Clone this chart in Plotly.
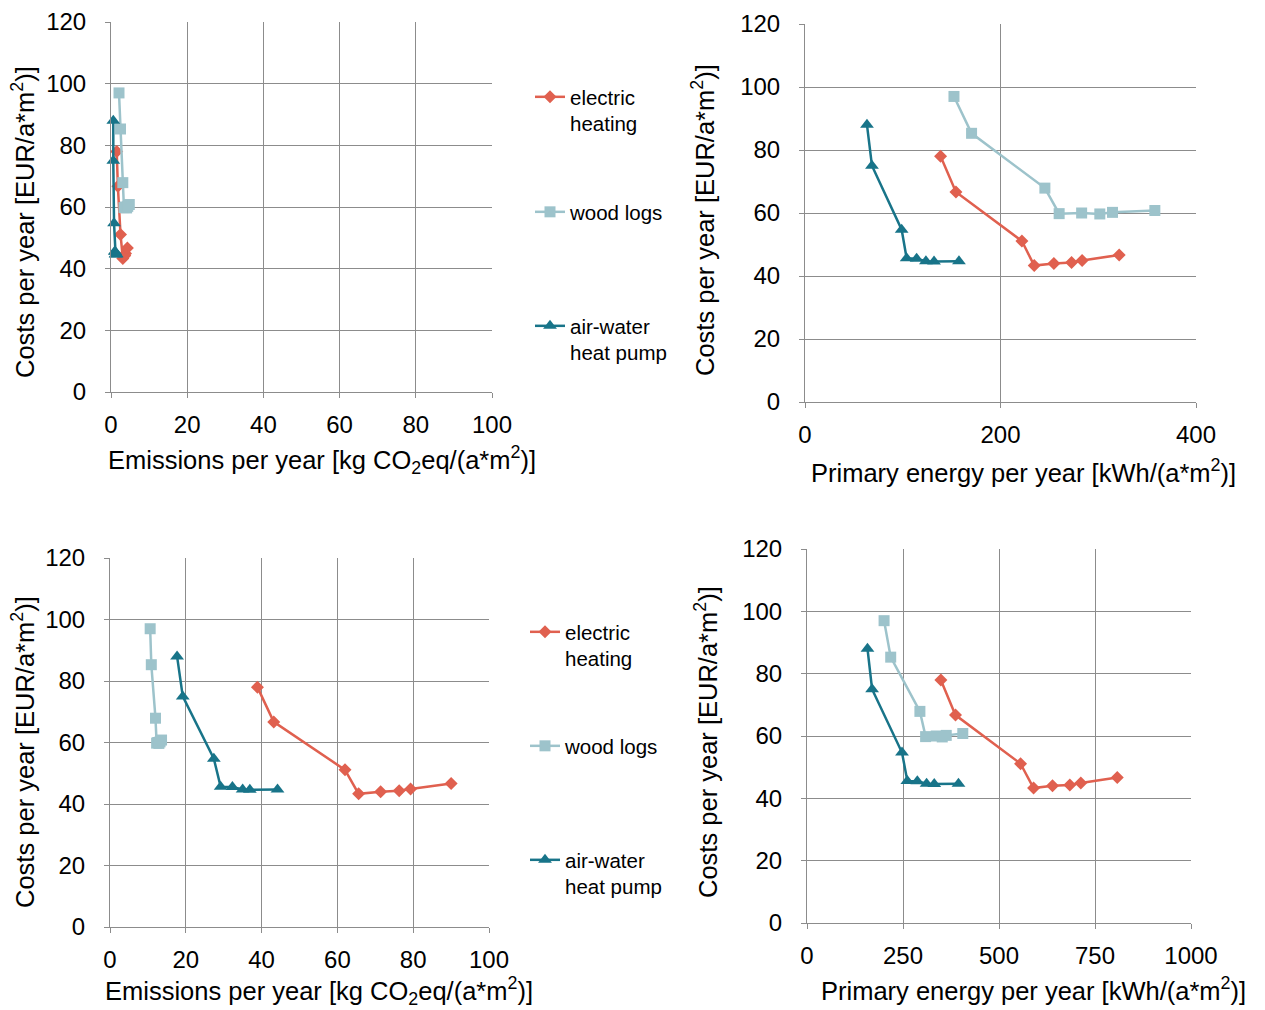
import plotly.graph_objects as go

# ---------------- data ----------------
series_names = ["electric<br>heating", "wood logs", "air-water<br>heat pump"]

cost_electric = [78.0, 66.7, 51.1, 43.3, 44.0, 44.3, 44.9, 46.7]
cost_wood = [97.0, 85.3, 67.9, 59.8, 60.0, 59.7, 60.2, 60.8]
cost_air = [88.0, 75.0, 54.7, 45.6, 45.5, 44.7, 44.6, 44.7]

# top-left: emissions [kg CO2eq/(a*m2)]
em1_electric = [1.5, 1.8, 2.5, 3.1, 3.4, 3.6, 3.8, 4.3]
em1_wood = [2.1, 2.5, 3.1, 3.4, 3.8, 4.1, 4.4, 4.8]
em1_air = [0.6, 0.6, 0.8, 1.0, 1.1, 1.2, 1.3, 1.5]

# top-right: primary energy [kWh/(a*m2)]
pe1_electric = [138.7, 154.4, 221.9, 234.5, 254.6, 272.7, 283.5, 321.4]
pe1_wood = [152.4, 170.4, 245.4, 260.0, 283.0, 301.6, 314.6, 357.9]
pe1_air = [63.4, 68.5, 98.9, 104.0, 114.2, 123.7, 132.0, 157.5]

# bottom-left: emissions
em2_electric = [38.9, 43.2, 62.0, 65.6, 71.4, 76.3, 79.3, 90.0]
em2_wood = [10.6, 10.9, 12.0, 12.3, 12.6, 12.9, 13.2, 13.6]
em2_air = [17.7, 19.2, 27.4, 29.2, 32.3, 35.0, 36.9, 44.2]

# bottom-right: primary energy
pe2_electric = [348.6, 386.7, 556.2, 590.0, 639.3, 684.4, 713.0, 808.0]
pe2_wood = [200.7, 218.0, 294.0, 308.9, 336.6, 352.2, 362.6, 405.7]
pe2_air = [157.5, 169.5, 247.4, 261.3, 287.3, 311.4, 331.4, 394.5]

y_ticks = [0, 20, 40, 60, 80, 100, 120]
em_ticks = [0, 20, 40, 60, 80, 100]
pe1_ticks = [0, 200, 400]
pe2_ticks = [0, 250, 500, 750, 1000]

title_cost = "Costs per year [EUR/a*m<sup>2</sup>)]"
title_em = "Emissions per year [kg CO<sub>2</sub>eq/(a*m<sup>2</sup>)]"
title_pe = "Primary energy per year [kWh/(a*m<sup>2</sup>)]"

# ---------------- styles ----------------
C_EL = "#E0604F"
C_WO = "#9DC3CB"
C_AW = "#187489"
styles = [
    dict(color=C_EL, symbol="diamond", size=10),
    dict(color=C_WO, symbol="square", size=11),
    dict(color=C_AW, symbol="triangle-up", size=12),
]
GRID = "#8C8C8C"
FONT = "Liberation Sans"
# page body has an 8px margin; the figure fills the rest of the window
OFF = 8
W, H = 1265 - OFF, 1010 - OFF

fig = go.Figure()

panels = [
    ("x", "y", [em1_electric, em1_wood, em1_air], ["legend", "legend2", "legend3"]),
    ("x2", "y2", [pe1_electric, pe1_wood, pe1_air], None),
    ("x3", "y3", [em2_electric, em2_wood, em2_air], ["legend4", "legend5", "legend6"]),
    ("x4", "y4", [pe2_electric, pe2_wood, pe2_air], None),
]
costs = [cost_electric, cost_wood, cost_air]

for xa, ya, xs, legs in panels:
    for i in range(3):
        st = styles[i]
        kw = dict(
            x=xs[i], y=costs[i], xaxis=xa, yaxis=ya,
            mode="lines+markers", name=series_names[i],
            line=dict(color=st["color"], width=2.5),
            marker=dict(color=st["color"], symbol=st["symbol"], size=st["size"]),
            cliponaxis=False,
        )
        if legs:
            kw["legend"] = legs[i]
            kw["showlegend"] = True
        else:
            kw["showlegend"] = False
        fig.add_trace(go.Scatter(**kw))

def px_x(p):
    return (p - OFF) / W

def px_y(p):
    return 1 - (p - OFF) / H

# plot areas in screen pixels: (left, right, top, bottom)
areas = {
    "1": (111, 492, 22, 392),
    "2": (805, 1196, 24, 402),
    "3": (110, 489, 558, 927),
    "4": (807, 1191, 549, 923),
}

axis_common = dict(
    showgrid=True, gridcolor=GRID, gridwidth=1,
    showline=True, linecolor=GRID, linewidth=1,
    ticks="outside", ticklen=5, tickcolor=GRID,
    zeroline=False, automargin=False,
    tickfont=dict(size=24, color="#000000", family=FONT),
)

xranges = {"1": [0, 100], "2": [0, 400], "3": [0, 100], "4": [0, 1000]}
xticks = {"1": em_ticks, "2": pe1_ticks, "3": em_ticks, "4": pe2_ticks}

layout = {}
for k, (l, r, t, b) in areas.items():
    suffix = "" if k == "1" else k
    layout["xaxis" + suffix] = dict(
        domain=[px_x(l), px_x(r)],
        anchor="y" + suffix,
        range=xranges[k],
        tickvals=xticks[k],
        ticktext=[str(v) for v in xticks[k]],
        ticklabelstandoff=6,
        **axis_common,
    )
    layout["yaxis" + suffix] = dict(
        domain=[px_y(b), px_y(t)],
        anchor="x" + suffix,
        range=[0, 120],
        tickvals=y_ticks,
        ticktext=[str(v) for v in y_ticks],
        ticklabelstandoff=14,
        **axis_common,
    )

fig.update_layout(**layout)

# axis titles as positioned text (screen px centres)
annots = [
    (322, 460, title_em, 0),
    (1023, 471, title_pe, 0),
    (319, 991, title_em, 0),
    (1033, 989, title_pe, 0),
    (23, 222, title_cost, -90),
    (703, 220, title_cost, -90),
    (23, 752, title_cost, -90),
    (706, 742, title_cost, -90),
]
for cx, cy, txt, ang in annots:
    fig.add_annotation(
        x=px_x(cx), y=px_y(cy), xref="paper", yref="paper",
        text=txt, showarrow=False, textangle=ang,
        xanchor="center", yanchor="middle",
        font=dict(size=25.5, color="#000000", family=FONT),
    )

legend_common = dict(
    xanchor="left", yanchor="top", valign="top",
    bgcolor="rgba(0,0,0,0)", borderwidth=0,
    itemwidth=30, font=dict(size=20.5, color="#000000", family=FONT),
)
legend_pos = {
    "legend": (530, 77),
    "legend2": (530, 192),
    "legend3": (530, 306),
    "legend4": (525, 612),
    "legend5": (525, 726),
    "legend6": (525, 840),
}
for name, (lx, ly) in legend_pos.items():
    fig.update_layout(**{name: dict(x=px_x(lx), y=px_y(ly), **legend_common)})

fig.update_layout(
    width=W, height=H,
    margin=dict(l=0, r=0, t=0, b=0, autoexpand=False),
    paper_bgcolor="white", plot_bgcolor="white",
    font=dict(family=FONT, color="#000000"),
)

fig.write_html("out.html")
